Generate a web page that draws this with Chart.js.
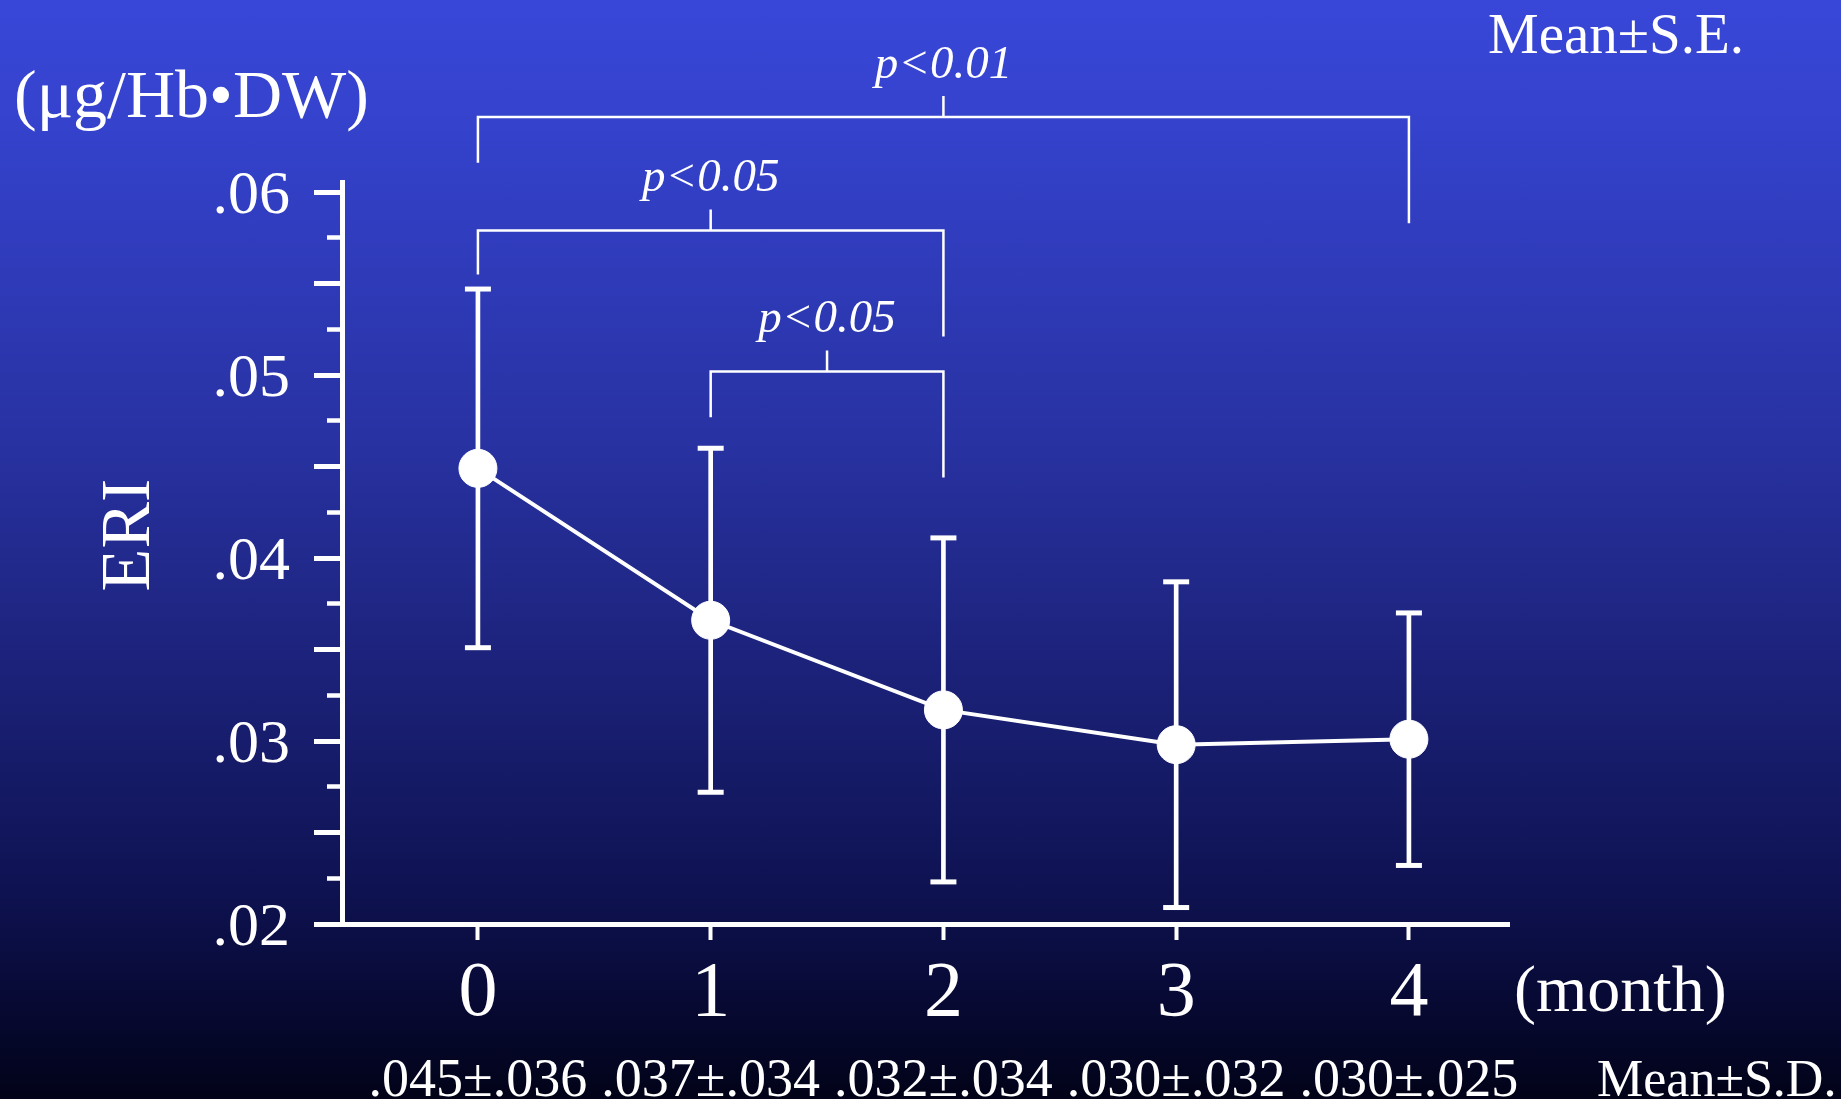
<!DOCTYPE html>
<html>
<head>
<meta charset="utf-8">
<title>ERI</title>
<script src="https://cdn.jsdelivr.net/npm/chart.js@4.4.1/dist/chart.umd.min.js"></script>
<style>
  html, body { margin: 0; padding: 0; }
  body {
    width: 1841px; height: 1099px; overflow: hidden;
    background: linear-gradient(to bottom,
      #3947d9 0%, #3341c9 14%, #2832a2 40%, #1b2177 62%, #0f1354 80%, #06082e 93%, #020318 100%);
  }
  #wrap { position: relative; width: 1841px; height: 1099px; }
</style>
</head>
<body>
<div id="wrap"><canvas id="chart"></canvas></div>
<script>
// ERI over months of treatment (Mean ± S.E. plotted, Mean ± S.D. listed)
const months = [0, 1, 2, 3, 4];
const meanERI = [0.0449, 0.0366, 0.0317, 0.0298, 0.0301];
const seERI = [0.0098, 0.0094, 0.0094, 0.0089, 0.0069];
const sdERI = [0.036, 0.034, 0.034, 0.032, 0.025];

// long ticks (labelled at whole hundredths) and short ticks in between
const yMajorTicks = [0.02, 0.025, 0.03, 0.035, 0.04, 0.045, 0.05, 0.055, 0.06];
const yMinorTicks = [0.0225, 0.0275, 0.0325, 0.0375, 0.0425, 0.0475, 0.0525, 0.0575];

// significance brackets between months
const comparisonPairs = [[0, 4], [0, 2], [1, 2]];
const comparisonLabels = ['p<0.01', 'p<0.05', 'p<0.05'];

// bracket geometry, in ERI units on the y scale
const bracketGeometry = [
  { bar: 0.0641, left: 0.0616, right: 0.0583 },
  { bar: 0.0579, left: 0.0555, right: 0.0521 },
  { bar: 0.0502, left: 0.0477, right: 0.0444 }
];

const SERIF = '"Liberation Serif", "Times New Roman", serif';
Chart.defaults.font.family = SERIF;
Chart.defaults.color = '#ffffff';

const fmt3 = v => v.toFixed(3).replace(/^0/, '');
const fmt2 = v => v.toFixed(2).replace(/^0/, '');
const isHundredth = v => Math.abs(v * 100 - Math.round(v * 100)) < 1e-6;

const annotations = {
  id: 'annotations',
  afterDraw(chart) {
    const { ctx, scales: { x, y } } = chart;
    ctx.save();
    ctx.fillStyle = '#ffffff';
    ctx.strokeStyle = '#ffffff';
    ctx.lineCap = 'butt';
    ctx.lineJoin = 'miter';

    // brackets and p values
    ctx.lineWidth = 2.5;
    comparisonPairs.forEach(([a, b], k) => {
      const g = bracketGeometry[k];
      const xa = x.getPixelForValue(a);
      const xb = x.getPixelForValue(b);
      const yb = y.getPixelForValue(g.bar);
      const xm = (xa + xb) / 2;
      ctx.beginPath();
      ctx.moveTo(xa, y.getPixelForValue(g.left));
      ctx.lineTo(xa, yb);
      ctx.lineTo(xb, yb);
      ctx.lineTo(xb, y.getPixelForValue(g.right));
      ctx.moveTo(xm, yb);
      ctx.lineTo(xm, yb - 21);
      ctx.stroke();
      ctx.font = 'italic 47px ' + SERIF;
      ctx.textAlign = 'center';
      ctx.textBaseline = 'alphabetic';
      ctx.fillText(comparisonLabels[k], xm, yb - 39);
    });

    // axis captions
    ctx.textBaseline = 'alphabetic';
    ctx.textAlign = 'left';
    ctx.font = '68px ' + SERIF;
    ctx.fillText('(\u03BCg/Hb\u2022DW)', 14, 117);
    ctx.font = '57px ' + SERIF;
    ctx.fillText('Mean\u00B1S.E.', 1488, 53);
    ctx.font = '66px ' + SERIF;
    ctx.fillText('(month)', 1514, 1011);

    // Mean ± S.D. row
    ctx.font = '54px ' + SERIF;
    ctx.textAlign = 'center';
    months.forEach((m, i) => {
      ctx.fillText(fmt3(meanERI[i]) + '\u00B1' + fmt3(sdERI[i]), x.getPixelForValue(m), 1096);
    });
    ctx.textAlign = 'left';
    ctx.font = '52px ' + SERIF;
    ctx.fillText('Mean\u00B1S.D.', 1597, 1096);

    // rotated axis name
    ctx.save();
    ctx.translate(131, 535);
    ctx.rotate(-Math.PI / 2);
    ctx.textAlign = 'center';
    ctx.textBaseline = 'middle';
    ctx.font = '70px ' + SERIF;
    ctx.fillText('ERI', 0, 0);
    ctx.restore();

    ctx.restore();
  }
};

new Chart(document.getElementById('chart'), {
  type: 'line',
  data: {
    datasets: [
      {
        type: 'line',
        label: 'Mean',
        data: months.map((m, i) => ({ x: m, y: meanERI[i] })),
        borderColor: '#ffffff',
        borderWidth: 4,
        tension: 0,
        pointRadius: 19,
        pointBackgroundColor: '#ffffff',
        pointBorderColor: '#ffffff',
        pointBorderWidth: 1,
        order: 0
      },
      {
        type: 'bar',
        label: 'S.E.',
        data: months.map((m, i) => ({ x: m, y: [meanERI[i] - seERI[i], meanERI[i] + seERI[i]] })),
        backgroundColor: '#ffffff',
        borderWidth: 0,
        barThickness: 4,
        order: 2
      },
      {
        type: 'scatter',
        label: 'S.E. caps',
        data: months.map((m, i) => ({ x: m, y: meanERI[i] + seERI[i] }))
          .concat(months.map((m, i) => ({ x: m, y: meanERI[i] - seERI[i] }))),
        showLine: false,
        pointStyle: 'line',
        pointRadius: 13,
        pointBorderWidth: 5,
        pointBorderColor: '#ffffff',
        borderColor: '#ffffff',
        order: 1
      }
    ]
  },
  options: {
    responsive: true,
    maintainAspectRatio: false,
    devicePixelRatio: 1,
    animation: false,
    events: [],
    layout: { padding: { left: 0, right: 332, top: 182, bottom: 0 } },
    plugins: { legend: { display: false }, tooltip: { enabled: false } },
    scales: {
      x: {
        type: 'linear',
        min: -0.584,
        max: 4.43,
        offset: false,
        afterFit: s => { s.height = 175; },
        afterBuildTicks: s => { s.ticks = months.map(v => ({ value: v })); },
        grid: { drawOnChartArea: false, drawTicks: true, tickLength: 16, tickWidth: 4, tickColor: '#ffffff', offset: false },
        border: { display: true, color: '#ffffff', width: 5 },
        ticks: { color: '#ffffff', font: { size: 78 }, padding: 8, maxRotation: 0, autoSkip: false, callback: v => String(v) }
      },
      y: {
        type: 'linear',
        position: 'left',
        weight: 1,
        min: 0.02,
        max: 0.06055,
        afterFit: s => { s.width = 342; },
        afterBuildTicks: s => { s.ticks = yMajorTicks.map(v => ({ value: v })); },
        grid: { drawOnChartArea: false, drawTicks: true, tickLength: 28, tickWidth: 5, tickColor: '#ffffff' },
        border: { display: true, color: '#ffffff', width: 5 },
        ticks: { color: '#ffffff', font: { size: 62 }, padding: 24, labelOffset: 5, callback: v => (isHundredth(v) ? fmt2(v) : '') }
      },
      yMinor: {
        type: 'linear',
        position: 'left',
        weight: 0,
        min: 0.02,
        max: 0.06055,
        afterFit: s => { s.width = 0; },
        afterBuildTicks: s => { s.ticks = yMinorTicks.map(v => ({ value: v })); },
        grid: { drawOnChartArea: false, drawTicks: true, tickLength: 15, tickWidth: 4.5, tickColor: '#ffffff' },
        border: { display: false },
        ticks: { display: false }
      }
    }
  },
  plugins: [annotations]
});
</script>
</body>
</html>
